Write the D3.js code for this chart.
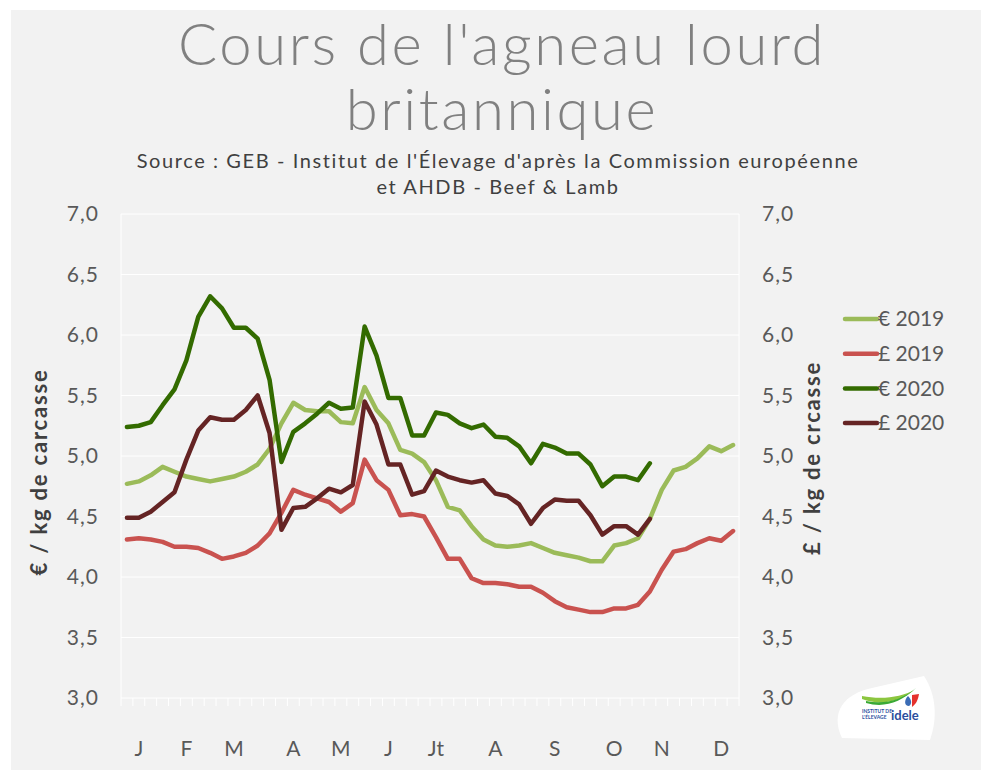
<!DOCTYPE html>
<html>
<head>
<meta charset="utf-8">
<script src="https://cdn.jsdelivr.net/npm/d3@7"></script>
<style>
  html, body { margin: 0; padding: 0; background: #ffffff; }
  svg { display: block; }
  text { font-family: "Lato", "DejaVu Sans", sans-serif; }
</style>
</head>
<body>
<script>
// weekly prices, 52 weeks
const weeks = d3.range(52);
const months = ["J", "F", "M", "A", "M", "J", "Jt", "A", "S", "O", "N", "D"];
const monthWeeks = [1, 5, 9, 14, 18, 22, 26, 31, 36, 41, 45, 50];
const yTicks = [3.0, 3.5, 4.0, 4.5, 5.0, 5.5, 6.0, 6.5, 7.0];

const eur2019 = [4.77, 4.79, 4.84, 4.91, 4.87, 4.83, 4.81, 4.79, 4.81, 4.83, 4.87, 4.93,
  5.06, 5.27, 5.44, 5.38, 5.37, 5.37, 5.28, 5.27, 5.57, 5.38, 5.27, 5.05,
  5.02, 4.95, 4.80, 4.58, 4.55, 4.42, 4.31, 4.26, 4.25, 4.26, 4.28, 4.24,
  4.20, 4.18, 4.16, 4.13, 4.13, 4.26, 4.28, 4.32, 4.48, 4.72, 4.88, 4.91,
  4.98, 5.08, 5.04, 5.09];
const gbp2019 = [4.31, 4.32, 4.31, 4.29, 4.25, 4.25, 4.24, 4.20, 4.15, 4.17, 4.20, 4.26,
  4.36, 4.53, 4.72, 4.68, 4.65, 4.62, 4.54, 4.61, 4.97, 4.80, 4.72, 4.51,
  4.52, 4.50, 4.33, 4.15, 4.15, 3.99, 3.95, 3.95, 3.94, 3.92, 3.92, 3.87,
  3.80, 3.75, 3.73, 3.71, 3.71, 3.74, 3.74, 3.77, 3.88, 4.06, 4.21, 4.23,
  4.28, 4.32, 4.30, 4.38];
const eur2020 = [5.24, 5.25, 5.28, 5.42, 5.55, 5.79, 6.15, 6.32, 6.22, 6.06, 6.06, 5.97,
  5.63, 4.95, 5.20, 5.27, 5.35, 5.44, 5.39, 5.40, 6.07, 5.83, 5.48, 5.48,
  5.17, 5.17, 5.36, 5.34, 5.27, 5.23, 5.26, 5.16, 5.15, 5.08, 4.94, 5.10,
  5.07, 5.02, 5.02, 4.93, 4.75, 4.83, 4.83, 4.80, 4.94];
const gbp2020 = [4.49, 4.49, 4.54, 4.62, 4.70, 4.97, 5.21, 5.32, 5.30, 5.30, 5.38, 5.50,
  5.19, 4.39, 4.57, 4.58, 4.65, 4.73, 4.70, 4.76, 5.45, 5.26, 4.93, 4.93,
  4.68, 4.71, 4.88, 4.83, 4.80, 4.78, 4.80, 4.69, 4.67, 4.60, 4.44, 4.57,
  4.64, 4.63, 4.63, 4.51, 4.35, 4.42, 4.42, 4.35, 4.48];

const series = [
  { name: "€ 2019", values: eur2019, color: "#9bbb59" },
  { name: "£ 2019", values: gbp2019, color: "#c9524f" },
  { name: "€ 2020", values: eur2020, color: "#336b00" },
  { name: "£ 2020", values: gbp2020, color: "#652424" }
];

const width = 981, height = 770;
const plot = { left: 121, right: 739, top: 214, bottom: 698 };
const textColor = "#595959";

const svg = d3.select("body").append("svg")
  .attr("width", width)
  .attr("height", height);

svg.append("rect")
  .attr("x", 11).attr("y", 10)
  .attr("width", width - 11).attr("height", height - 10)
  .attr("fill", "#f2f2f2");

const x = d3.scaleBand().domain(weeks).range([plot.left, plot.right]);
const y = d3.scaleLinear().domain([3, 7]).range([plot.bottom, plot.top]);

// grid
svg.append("g")
  .selectAll("line")
  .data(yTicks)
  .join("line")
  .attr("x1", plot.left).attr("x2", plot.right)
  .attr("y1", d => y(d)).attr("y2", d => y(d))
  .attr("stroke", "#ffffff").attr("stroke-width", 1);

svg.append("g")
  .selectAll("line")
  .data([plot.left, plot.right])
  .join("line")
  .attr("x1", d => d).attr("x2", d => d)
  .attr("y1", plot.top).attr("y2", plot.bottom)
  .attr("stroke", "#ffffff").attr("stroke-width", 1);

// week tick marks on category boundaries
svg.append("g")
  .selectAll("line")
  .data(weeks.concat([52]))
  .join("line")
  .attr("x1", d => d < 52 ? x(d) : plot.right)
  .attr("x2", d => d < 52 ? x(d) : plot.right)
  .attr("y1", plot.bottom).attr("y2", plot.bottom + 8)
  .attr("stroke", "#ffffff").attr("stroke-width", 1);

// x axis: month labels
const xAxis = d3.axisBottom(x)
  .tickValues(monthWeeks)
  .tickSize(0)
  .tickPadding(0)
  .tickFormat(d => months[monthWeeks.indexOf(d)]);

const gx = svg.append("g")
  .attr("transform", `translate(0,${plot.bottom + 51})`)
  .call(xAxis);
gx.select(".domain").remove();
gx.selectAll("text")
  .attr("dy", "0.32em")
  .attr("fill", textColor)
  .style("font-size", "21px")
  .style("font-family", "Lato, sans-serif");

// y axes
const fmt = d => d3.format(".1f")(d).replace(".", ",");
const gyl = svg.append("g")
  .attr("transform", `translate(${plot.left - 22},0)`)
  .call(d3.axisLeft(y).tickValues(yTicks).tickSize(0).tickPadding(0).tickFormat(fmt));
const gyr = svg.append("g")
  .attr("transform", `translate(${plot.right + 23},0)`)
  .call(d3.axisRight(y).tickValues(yTicks).tickSize(0).tickPadding(0).tickFormat(fmt));
[gyl, gyr].forEach(g => {
  g.select(".domain").remove();
  g.selectAll("text")
    .attr("fill", textColor)
    .style("font-size", "21px")
    .style("letter-spacing", "1px")
    .style("font-family", "Lato, sans-serif");
});

svg.append("text")
  .attr("transform", "translate(47,472) rotate(-90)")
  .attr("text-anchor", "middle")
  .attr("fill", "#404040")
  .style("font-size", "22px")
  .style("letter-spacing", "1.8px")
  .style("font-weight", "bold")
  .text("€ / kg de carcasse");

svg.append("text")
  .attr("transform", "translate(820,458) rotate(-90)")
  .attr("text-anchor", "middle")
  .attr("fill", "#404040")
  .style("font-size", "22px")
  .style("letter-spacing", "1.8px")
  .style("font-weight", "bold")
  .text("£ / kg de crcasse");

// lines
const line = d3.line()
  .defined(d => d != null)
  .x((d, i) => x(i) + x.bandwidth() / 2)
  .y(d => y(d));

svg.append("g")
  .selectAll("path")
  .data(series)
  .join("path")
  .attr("d", d => line(d.values))
  .attr("fill", "none")
  .attr("stroke", d => d.color)
  .attr("stroke-width", 4.5)
  .attr("stroke-linejoin", "round")
  .attr("stroke-linecap", "round");

// legend
const legend = svg.append("g")
  .selectAll("g")
  .data(series)
  .join("g")
  .attr("transform", (d, i) => `translate(845,${319 + i * 34.7})`);
legend.append("line")
  .attr("x1", 0).attr("x2", 32)
  .attr("stroke", d => d.color)
  .attr("stroke-width", 4.5)
  .attr("stroke-linecap", "round");
legend.append("text")
  .attr("x", 33)
  .attr("dy", "0.35em")
  .attr("fill", textColor)
  .style("font-size", "21px")
  .text(d => d.name);

// titles
svg.append("text")
  .attr("x", 502).attr("y", 65)
  .attr("text-anchor", "middle")
  .attr("fill", "#808080")
  .style("font-size", "58px")
  .style("letter-spacing", "2.6px")
  .style("font-weight", 300)
  .text("Cours de l'agneau lourd");
svg.append("text")
  .attr("x", 502).attr("y", 130)
  .attr("text-anchor", "middle")
  .attr("fill", "#808080")
  .style("font-size", "58px")
  .style("letter-spacing", "2.6px")
  .style("font-weight", 300)
  .text("britannique");
svg.append("text")
  .attr("x", 498).attr("y", 168)
  .attr("text-anchor", "middle")
  .attr("fill", "#404040")
  .style("font-size", "20px")
  .style("letter-spacing", "1.6px")
  .text("Source : GEB - Institut de l'Élevage d'après la Commission européenne");
svg.append("text")
  .attr("x", 498).attr("y", 194)
  .attr("text-anchor", "middle")
  .attr("fill", "#404040")
  .style("font-size", "20px")
  .style("letter-spacing", "1.6px")
  .text("et AHDB - Beef & Lamb");

// idele logo (approximation)
const logo = svg.append("g");
logo.append("path")
  .attr("d", "M842,738 C830,712 844,694 872,688 L924,676 C936,694 938,718 930,740 Z")
  .attr("fill", "#ffffff");
logo.append("path")
  .attr("d", "M862,699 C880,706 900,702 914,690 C902,697 882,700 862,696 Z")
  .attr("fill", "#8cc63f");
logo.append("path")
  .attr("d", "M866,703 C884,708 900,703 916,688 C902,700 884,705 866,701 Z")
  .attr("fill", "#3aa935");
logo.append("path")
  .attr("d", "M908,696 C904,700 904,706 909,706 C912,704 912,700 908,696 Z")
  .attr("fill", "#3b6cb5");
logo.append("path")
  .attr("d", "M912,695 L919,694 C918,700 916,704 912,707 Z")
  .attr("fill", "#e5322d");
logo.append("text")
  .attr("x", 862).attr("y", 713)
  .attr("fill", "#2b4f9e")
  .style("font-size", "5px").style("font-weight", "bold")
  .text("INSTITUT DE");
logo.append("text")
  .attr("x", 862).attr("y", 719)
  .attr("fill", "#2b4f9e")
  .style("font-size", "5px").style("font-weight", "bold")
  .text("L'ÉLEVAGE");
logo.append("text")
  .attr("x", 891).attr("y", 720)
  .attr("fill", "#2b4f9e")
  .style("font-size", "13px").style("font-weight", "bold")
  .text("idele");
</script>
</body>
</html>
